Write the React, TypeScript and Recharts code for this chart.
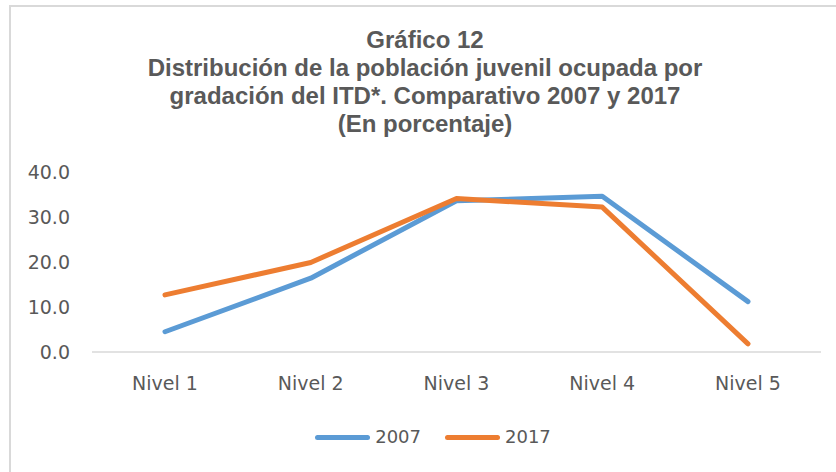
import React from "react";
import { LineChart, Line, XAxis, YAxis } from "recharts";

const niveles = ["Nivel 1", "Nivel 2", "Nivel 3", "Nivel 4", "Nivel 5"];
const serie2007 = [4.5, 16.4, 33.6, 34.6, 11.2];
const serie2017 = [12.7, 19.9, 34.1, 32.2, 1.8];
const yTicks = [0, 10, 20, 30, 40];
const titleLines = [
  "Gráfico 12",
  "Distribución de la población juvenil ocupada por",
  "gradación del ITD*. Comparativo 2007 y 2017",
  "(En porcentaje)",
];

const series = [
  { key: "y2007", name: "2007", color: "#5B9BD5" },
  { key: "y2017", name: "2017", color: "#ED7D31" },
];

const data = niveles.map((n, i) => ({ name: n, y2007: serie2007[i], y2017: serie2017[i] }));

const textGray = "#595959";
const tickFont = { fontSize: 19, fill: textGray, fontFamily: "'DejaVu Sans', sans-serif" };

function LegendBox() {
  return (
    <div
      style={{
        position: "absolute",
        left: 0,
        top: 426,
        width: 866,
        display: "flex",
        justifyContent: "center",
        gap: 24,
        fontFamily: "'DejaVu Sans', sans-serif",
        fontSize: 18,
        lineHeight: "22px",
        color: textGray,
      }}
    >
      {series.map((s) => (
        <div key={s.key} style={{ display: "flex", alignItems: "center", gap: 5 }}>
          <span style={{ display: "inline-block", width: 55, height: 5, borderRadius: 3, background: s.color }} />
          <span>{s.name}</span>
        </div>
      ))}
    </div>
  );
}

export default function App() {
  return (
    <div style={{ position: "absolute", left: 0, top: 0, width: 836, height: 472, background: "#fff", overflow: "hidden" }}>
      <div
        style={{
          position: "absolute",
          left: 9,
          top: 5,
          width: 900,
          height: 500,
          borderLeft: "2px solid #d9d9d9",
          borderTop: "2px solid #d9d9d9",
        }}
      />
      <div
        style={{
          position: "absolute",
          left: 0,
          top: 26,
          width: 850,
          textAlign: "center",
          fontFamily: "'Liberation Sans', Arial, sans-serif",
          fontWeight: 700,
          fontSize: 24,
          lineHeight: "28px",
          color: textGray,
        }}
      >
        {titleLines.map((t) => (
          <div key={t}>{t}</div>
        ))}
      </div>
      <div style={{ position: "absolute", left: 0, top: 0 }}>
        <LineChart width={836} height={472} data={data} margin={{ top: 172, right: 15, bottom: 60, left: 0 }}>
          <XAxis
            dataKey="name"
            tick={tickFont}
            tickLine={false}
            axisLine={{ stroke: "#d9d9d9", strokeWidth: 1.5 }}
            padding={{ left: 73, right: 73 }}
            tickMargin={19}
            height={60}
            interval={0}
          />
          <YAxis
            domain={[0, 40]}
            ticks={yTicks}
            tick={tickFont}
            tickLine={false}
            axisLine={false}
            tickMargin={16}
            width={92}
            tickFormatter={(v: number) => v.toFixed(1)}
          />
          {series.map((s) => (
            <Line
              key={s.key}
              isAnimationActive={false}
              type="linear"
              dataKey={s.key}
              name={s.name}
              stroke={s.color}
              strokeWidth={5}
              strokeLinecap="round"
              strokeLinejoin="round"
              dot={false}
              activeDot={false}
            />
          ))}
        </LineChart>
      </div>
      <LegendBox />
    </div>
  );
}
